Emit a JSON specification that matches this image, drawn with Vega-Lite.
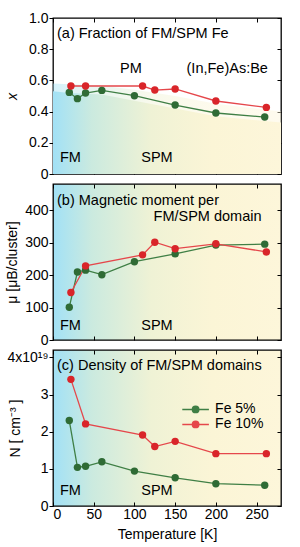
{
  "$schema": "https://vega.github.io/schema/vega-lite/v6.json",
  "padding": {"left": 4, "top": 10, "right": 0, "bottom": 0},
  "background": "white",
  "spacing": 10,
  "bounds": "flush",
  "config": {
    "font": "Liberation Sans",
    "view": {"stroke": "black", "strokeWidth": 1.3},
    "axis": {"grid": false, "domain": false, "labelFont": "Liberation Sans", "labelFontSize": 14, "labelColor": "black", "tickColor": "black", "tickWidth": 1, "titleFont": "Liberation Sans", "titleFontSize": 14, "titleFontWeight": "normal", "titleColor": "black"},
    "text": {"font": "Liberation Sans", "fontSize": 14.5, "color": "black"}
  },
  "resolve": {"scale": {"color": "independent"}, "legend": {"color": "independent"}},
  "datasets": {
    "pts": [
      {"T": 20, "series": "Fe 5%", "frac": 0.523, "mu": 101, "N": 2.30},
      {"T": 30, "series": "Fe 5%", "frac": 0.483, "mu": 209, "N": 1.04},
      {"T": 40, "series": "Fe 5%", "frac": 0.519, "mu": 215, "N": 1.07},
      {"T": 60, "series": "Fe 5%", "frac": 0.536, "mu": 201, "N": 1.19},
      {"T": 100, "series": "Fe 5%", "frac": 0.502, "mu": 241, "N": 0.94},
      {"T": 150, "series": "Fe 5%", "frac": 0.442, "mu": 265, "N": 0.76},
      {"T": 200, "series": "Fe 5%", "frac": 0.391, "mu": 292, "N": 0.60},
      {"T": 260, "series": "Fe 5%", "frac": 0.365, "mu": 295, "N": 0.56},
      {"T": 22, "series": "Fe 10%", "frac": 0.564, "mu": 146, "N": 3.41},
      {"T": 40, "series": "Fe 10%", "frac": 0.564, "mu": 228, "N": 2.21},
      {"T": 110, "series": "Fe 10%", "frac": 0.564, "mu": 262, "N": 1.91},
      {"T": 125, "series": "Fe 10%", "frac": 0.538, "mu": 301, "N": 1.60},
      {"T": 150, "series": "Fe 10%", "frac": 0.545, "mu": 281, "N": 1.74},
      {"T": 200, "series": "Fe 10%", "frac": 0.468, "mu": 296, "N": 1.41},
      {"T": 262, "series": "Fe 10%", "frac": 0.427, "mu": 271, "N": 1.41}
    ],
    "bound": [
      {"T": 0, "lo": 0.53, "hi": 0.58},
      {"T": 20, "lo": 0.52, "hi": 0.575},
      {"T": 60, "lo": 0.51, "hi": 0.565},
      {"T": 100, "lo": 0.47, "hi": 0.54},
      {"T": 150, "lo": 0.42, "hi": 0.5},
      {"T": 200, "lo": 0.37, "hi": 0.45},
      {"T": 280, "lo": 0.33, "hi": 0.4}
    ],
    "notesA": [
      {"T": 4.9, "v": 0.897, "label": "(a) Fraction of FM/SPM Fe"},
      {"T": 82.4, "v": 0.673, "label": "PM"},
      {"T": 164, "v": 0.673, "label": "(In,Fe)As:Be"},
      {"T": 8.6, "v": 0.103, "label": "FM"},
      {"T": 108.4, "v": 0.103, "label": "SPM"}
    ],
    "notesB": [
      {"T": 4.9, "v": 428.6, "label": "(b) Magnetic moment per"},
      {"T": 123.5, "v": 380, "label": "FM/SPM domain"},
      {"T": 8.6, "v": 43, "label": "FM"},
      {"T": 108.4, "v": 43, "label": "SPM"}
    ],
    "notesC": [
      {"T": 4.9, "v": 3.78, "label": "(c) Density of FM/SPM domains"},
      {"T": 8.6, "v": 0.41, "label": "FM"},
      {"T": 108.4, "v": 0.41, "label": "SPM"}
    ]
  },
  "vconcat": [
    {
      "width": 228, "height": 156,
      "layer": [
        {"data": {"name": "bound"}, "mark": {"type": "area", "opacity": 0.45, "fill": {"gradient": "linear", "x1": 0, "y1": 0, "x2": 1, "y2": 0, "stops": [{"offset": 0, "color": "#a2e1f6"}, {"offset": 0.17, "color": "#cbeadf"}, {"offset": 0.43, "color": "#eff2d5"}, {"offset": 0.7, "color": "#fbf5d6"}, {"offset": 1, "color": "#fdf6da"}]}},
          "encoding": {"x": {"field": "T", "type": "quantitative", "scale": {"domain": [0, 280], "nice": false}, "axis": null}, "y": {"field": "hi", "type": "quantitative", "scale": {"domain": [0, 1], "nice": false}, "axis": null}}},
        {"data": {"name": "bound"}, "mark": {"type": "area", "fill": {"gradient": "linear", "x1": 0, "y1": 0, "x2": 1, "y2": 0, "stops": [{"offset": 0, "color": "#a2e1f6"}, {"offset": 0.17, "color": "#cbeadf"}, {"offset": 0.43, "color": "#eff2d5"}, {"offset": 0.7, "color": "#fbf5d6"}, {"offset": 1, "color": "#fdf6da"}]}},
          "encoding": {"x": {"field": "T", "type": "quantitative", "axis": null}, "y": {"field": "lo", "type": "quantitative", "axis": null}}},
        {"data": {"name": "pts"}, "mark": {"type": "line", "strokeWidth": 1.3},
          "encoding": {
            "x": {"field": "T", "type": "quantitative", "axis": {"orient": "bottom", "values": [0, 50, 100, 150, 200, 250], "labels": false, "tickSize": -4, "title": null}},
            "y": {"field": "frac", "type": "quantitative", "axis": {"orient": "left", "values": [0, 0.2, 0.4, 0.6, 0.8, 1.0], "tickSize": 4, "labelPadding": 1, "labelExpr": "datum.value == 0 ? '0' : format(datum.value, '.1f')", "title": "x", "titleFontStyle": "italic", "titleX": -40.7, "titleBaseline": "middle"}},
            "color": {"field": "series", "type": "nominal", "scale": {"domain": ["Fe 5%", "Fe 10%"], "range": ["#3f7f45", "#e5474b"]}, "legend": null}
          }},
        {"data": {"name": "pts"}, "mark": {"type": "point", "filled": true, "size": 55, "opacity": 1},
          "encoding": {
            "x": {"field": "T", "type": "quantitative", "axis": {"orient": "top", "values": [0, 50, 100, 150, 200, 250], "labels": false, "tickSize": -4, "title": null}},
            "y": {"field": "frac", "type": "quantitative", "axis": {"orient": "right", "values": [0, 0.2, 0.4, 0.6, 0.8, 1.0], "labels": false, "tickSize": -4, "title": null}},
            "fill": {"condition": {"test": "datum.series == 'Fe 5%'", "value": "#2f6b35"}, "value": "#d9252a"}
          }},
        {"data": {"name": "notesA"}, "mark": {"type": "text", "align": "left", "baseline": "middle"},
          "encoding": {"x": {"field": "T", "type": "quantitative", "axis": null}, "y": {"field": "v", "type": "quantitative", "axis": null}, "text": {"field": "label"}}}
      ],
      "resolve": {"axis": {"x": "independent", "y": "independent"}}
    },
    {
      "width": 228, "height": 156,
      "view": {"stroke": "black", "strokeWidth": 1.3, "fill": {"gradient": "linear", "x1": 0, "y1": 0, "x2": 1, "y2": 0, "stops": [{"offset": 0, "color": "#a2e1f6"}, {"offset": 0.17, "color": "#cbeadf"}, {"offset": 0.43, "color": "#eff2d5"}, {"offset": 0.7, "color": "#fbf5d6"}, {"offset": 1, "color": "#fdf6da"}]}},
      "layer": [
        {"data": {"name": "pts"}, "mark": {"type": "line", "strokeWidth": 1.3},
          "encoding": {
            "x": {"field": "T", "type": "quantitative", "scale": {"domain": [0, 280], "nice": false}, "axis": {"orient": "bottom", "values": [0, 50, 100, 150, 200, 250], "labels": false, "tickSize": -4, "title": null}},
            "y": {"field": "mu", "type": "quantitative", "scale": {"domain": [0, 480], "nice": false}, "axis": {"orient": "left", "values": [0, 100, 200, 300, 400], "tickSize": 4, "labelPadding": 1, "title": "μ  [μB/cluster]", "titleX": -41, "titleBaseline": "middle"}},
            "color": {"field": "series", "type": "nominal", "scale": {"domain": ["Fe 5%", "Fe 10%"], "range": ["#3f7f45", "#e5474b"]}, "legend": null}
          }},
        {"data": {"name": "pts"}, "mark": {"type": "point", "filled": true, "size": 55, "opacity": 1},
          "encoding": {
            "x": {"field": "T", "type": "quantitative", "axis": {"orient": "top", "values": [0, 50, 100, 150, 200, 250], "labels": false, "tickSize": -4, "title": null}},
            "y": {"field": "mu", "type": "quantitative", "axis": {"orient": "right", "values": [0, 100, 200, 300, 400], "labels": false, "tickSize": -4, "title": null}},
            "fill": {"condition": {"test": "datum.series == 'Fe 5%'", "value": "#2f6b35"}, "value": "#d9252a"}
          }},
        {"data": {"name": "notesB"}, "mark": {"type": "text", "align": "left", "baseline": "middle"},
          "encoding": {"x": {"field": "T", "type": "quantitative", "axis": null}, "y": {"field": "v", "type": "quantitative", "axis": null}, "text": {"field": "label"}}}
      ],
      "resolve": {"axis": {"x": "independent", "y": "independent"}}
    },
    {
      "width": 228, "height": 156,
      "view": {"stroke": "black", "strokeWidth": 1.3, "fill": {"gradient": "linear", "x1": 0, "y1": 0, "x2": 1, "y2": 0, "stops": [{"offset": 0, "color": "#a2e1f6"}, {"offset": 0.17, "color": "#cbeadf"}, {"offset": 0.43, "color": "#eff2d5"}, {"offset": 0.7, "color": "#fbf5d6"}, {"offset": 1, "color": "#fdf6da"}]}},
      "layer": [
        {"data": {"name": "pts"}, "mark": {"type": "line", "strokeWidth": 1.3},
          "encoding": {
            "x": {"field": "T", "type": "quantitative", "scale": {"domain": [0, 280], "nice": false}, "axis": {"orient": "bottom", "values": [0, 50, 100, 150, 200, 250], "tickSize": -4, "labelPadding": 5, "title": "Temperature [K]", "titlePadding": 6}},
            "y": {"field": "N", "type": "quantitative", "scale": {"domain": [0, 4.2], "nice": false}, "axis": {"orient": "left", "values": [0, 1, 2, 3, 4], "tickSize": 4, "labelPadding": 1, "labelExpr": "datum.value == 4 ? '4x10¹⁹' : datum.label", "title": "N [ cm⁻³ ]", "titleX": -37.7, "titleBaseline": "middle"}},
            "color": {"field": "series", "type": "nominal", "scale": {"domain": ["Fe 5%", "Fe 10%"], "range": ["#3f7f45", "#e5474b"]},
              "legend": {"title": null, "orient": "none", "legendX": 134.6, "legendY": 51.4, "padding": 0, "rowPadding": 0, "symbolType": "M-1.9,0L1.9,0M-0.457,0A0.457,0.457,0,1,0,0.457,0A0.457,0.457,0,1,0,-0.457,0M-0.314,0A0.314,0.314,0,1,0,0.314,0A0.314,0.314,0,1,0,-0.314,0M-0.171,0A0.171,0.171,0,1,0,0.171,0A0.171,0.171,0,1,0,-0.171,0M-0.057,0A0.057,0.057,0,1,0,0.057,0A0.057,0.057,0,1,0,-0.057,0", "symbolSize": 196, "symbolStrokeWidth": 1.5, "labelOffset": 11.5, "labelFontSize": 14, "labelFont": "Liberation Sans", "labelColor": "black"}}
          }},
        {"data": {"name": "pts"}, "mark": {"type": "point", "filled": true, "size": 55, "opacity": 1},
          "encoding": {
            "x": {"field": "T", "type": "quantitative", "axis": {"orient": "top", "values": [0, 50, 100, 150, 200, 250], "labels": false, "tickSize": -4, "title": null}},
            "y": {"field": "N", "type": "quantitative", "axis": {"orient": "right", "values": [0, 1, 2, 3, 4], "labels": false, "tickSize": -4, "title": null}},
            "fill": {"condition": {"test": "datum.series == 'Fe 5%'", "value": "#2f6b35"}, "value": "#d9252a"}
          }},
        {"data": {"name": "notesC"}, "mark": {"type": "text", "align": "left", "baseline": "middle"},
          "encoding": {"x": {"field": "T", "type": "quantitative", "axis": null}, "y": {"field": "v", "type": "quantitative", "axis": null}, "text": {"field": "label"}}}
      ],
      "resolve": {"axis": {"x": "independent", "y": "independent"}}
    }
  ]
}
